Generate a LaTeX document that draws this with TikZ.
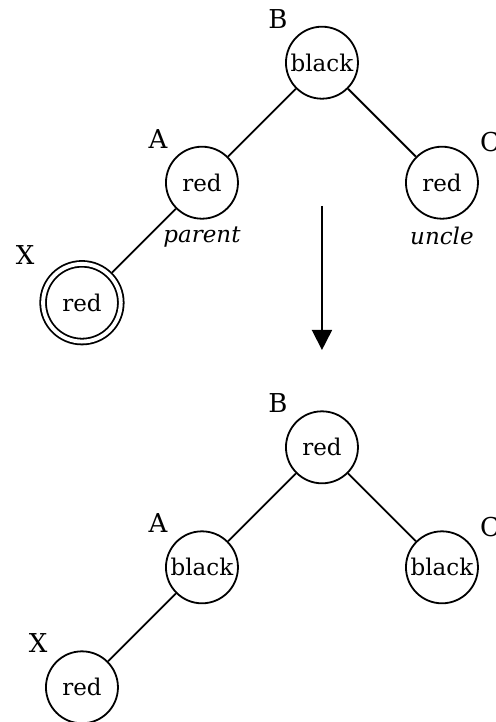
\documentclass[tikz,border=0pt]{standalone}
\usepackage{fontspec}
\setmainfont{DejaVu Serif}
\usetikzlibrary{arrows.meta}

\begin{document}
\begin{tikzpicture}[x=120pt, y=120pt, line width=1.8pt,
    rb/.style={circle, draw, minimum size=72pt, inner sep=0pt, font=\fontsize{23}{27}\selectfont},
    tag/.style={font=\fontsize{26}{30}\selectfont, label distance=6pt},
    role/.style={font=\fontsize{23}{27}\selectfont\itshape, label distance=3pt}]
    \useasboundingbox (-2.683,0.5225) rectangle (1.442,-5.494);

    % Before: red parent, red uncle
    \node[rb, label={[tag]135:B}] (B1) at (0,0) {black};
    \node[rb, label={[tag]135:A}, label={[role]below:parent}] (A1) at (-1,-1) {red};
    \node[rb, label={[tag]38:C}, label={[role]below:uncle}] (C1) at (1,-1) {red};
    \node[rb, double, double distance=3.9pt, minimum size=77.7pt, outer sep=3.75pt,
        label={[tag, xshift=-9pt]135:X}] (X1) at (-2,-2) {red};
    \draw (B1) -- (A1);
    \draw (B1) -- (C1);
    \draw (A1) -- (X1);

    % Recolour
    \coordinate (from) at (0,-1.194);
    \coordinate (to) at (0,-2.394);
    \draw[-{Triangle[length=20pt, width=20pt]}] (from) -- (to);

    % After: grandparent red, parent and uncle black
    \node[rb, label={[tag]135:B}] (B2) at (0,-3.205) {red};
    \node[rb, label={[tag]135:A}] (A2) at (-1,-4.205) {black};
    \node[rb, label={[tag]38:C}] (C2) at (1,-4.205) {black};
    \node[rb, label={[tag]135:X}] (X2) at (-2,-5.205) {red};
    \draw (B2) -- (A2);
    \draw (B2) -- (C2);
    \draw (A2) -- (X2);
\end{tikzpicture}
\end{document}
